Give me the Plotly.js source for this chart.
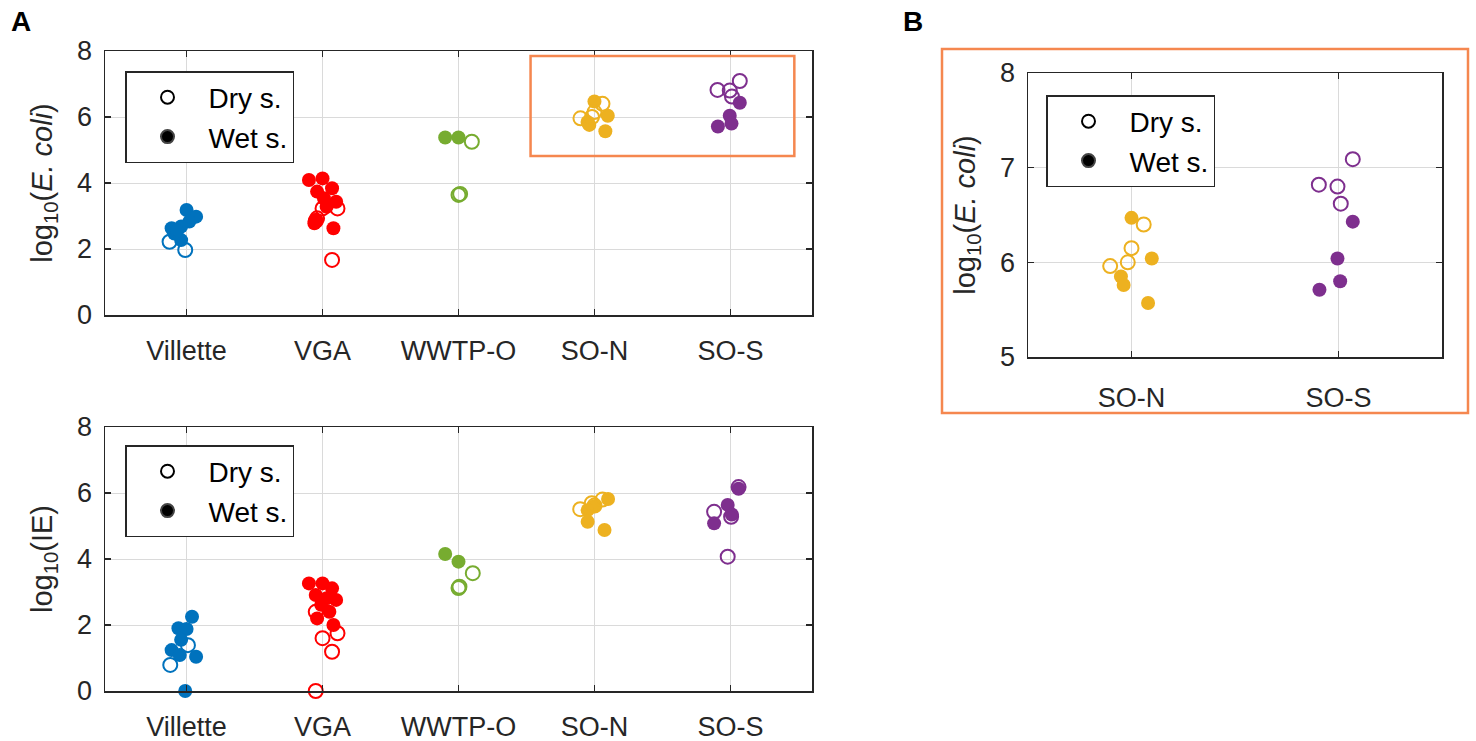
<!DOCTYPE html>
<html><head><meta charset="utf-8">
<script src="https://cdn.plot.ly/plotly-3.0.1.min.js"></script>
<style>html,body{margin:0;padding:0;background:#fff}</style>
</head><body><div id="chart" style="width:1476px;height:741px"></div>
<script>
const sites = ['Villette','VGA','WWTP-O','SO-N','SO-S'];
const siteColors = ['#0072BD','#FF0000','#77AC30','#EDB120','#7E2F8E'];
const mainTicks = [0,2,4,6,8];
const zoomTicks = [5,6,7,8];
const zoomSites = [3,4];

// log10(E. coli) — dry season
const ecoliDryY = [
  [2.22,1.97],
  [3.23,3.23,2.93,2.85,1.67],
  [5.25,3.64,3.67],
  [5.96,6.00,6.15,6.40],
  [6.82,6.80,6.62,7.09]
];
const ecoliDryJit = [
  [-0.125,-0.01],
  [0.0,0.11,-0.04,-0.05,0.07],
  [0.098,0.0,0.012],
  [-0.103,-0.018,0.0,0.059],
  [-0.095,-0.005,0.011,0.069]
];
// log10(E. coli) — wet season
const ecoliWetY = [
  [3.18,2.98,2.83,2.68,2.63,2.47,2.27,2.55],
  [4.09,4.14,3.84,3.74,3.54,3.43,3.28,2.88,2.78,2.63],
  [5.38,5.38],
  [6.47,6.04,5.85,5.76,5.57],
  [6.43,6.04,5.80,5.71]
];
const ecoliWetJit = [
  [0.0,0.07,0.02,-0.04,-0.11,-0.09,-0.04,-0.07],
  [-0.10,0.0,0.07,-0.04,0.01,0.10,0.03,-0.05,-0.06,0.08],
  [-0.098,0.0],
  [0.0,0.098,-0.051,-0.038,0.080],
  [0.069,-0.005,0.008,-0.092]
];
// log10(IE) — dry season
const ieDryY = [
  [1.39,0.79],
  [2.40,1.75,1.60,1.19,0.0],
  [3.57,3.16,3.12],
  [5.51,5.69,5.62,5.80],
  [5.43,4.07,5.28,6.18]
];
const ieDryJit = [
  [0.01,-0.12],
  [-0.05,0.11,0.0,0.07,-0.05],
  [0.105,0.007,0.0],
  [-0.105,-0.02,0.0,0.059],
  [-0.12,-0.02,0.005,0.06]
];
// log10(IE) — wet season
const ieWetY = [
  [2.25,1.90,1.88,1.55,1.24,1.09,1.04,0.0],
  [3.26,3.26,3.11,2.91,2.81,2.76,2.61,2.40,2.20,2.00],
  [4.15,3.92],
  [5.82,5.60,5.48,5.13,4.88],
  [6.13,5.64,5.35,5.08]
];
const ieWetJit = [
  [0.04,-0.06,0.0,-0.04,-0.11,-0.05,0.07,-0.01],
  [-0.10,0.0,0.07,-0.05,0.03,0.10,-0.01,0.05,-0.04,0.08],
  [-0.098,0.0],
  [0.10,0.0,-0.05,-0.05,0.074],
  [0.06,-0.02,0.01,-0.12]
];

const FONT = 'Liberation Sans, Arial, sans-serif';
const MS = 14;
const traces = [];

function addPanel(dryY, dryJit, wetY, wetJit, idxList, xa, ya, base){
  idxList.forEach((si, k) => {
    const pos = base ? k + 1 : si + 1;
    traces.push({
      type:'scatter', mode:'markers', xaxis:xa, yaxis:ya, showlegend:false, cliponaxis:false,
      x: wetJit[si].map(j => pos + j), y: wetY[si],
      marker:{symbol:'circle', size:MS, color:siteColors[si], line:{width:0}},
      hoverinfo:'skip'
    });
    traces.push({
      type:'scatter', mode:'markers', xaxis:xa, yaxis:ya, showlegend:false, cliponaxis:false,
      x: dryJit[si].map(j => pos + j), y: dryY[si],
      marker:{symbol:'circle-open', size:MS, color:siteColors[si], line:{width:2}},
      hoverinfo:'skip'
    });
  });
}
addPanel(ecoliDryY, ecoliDryJit, ecoliWetY, ecoliWetJit, [0,1,2,3,4], 'x', 'y', false);
addPanel(ieDryY, ieDryJit, ieWetY, ieWetJit, [0,1,2,3,4], 'x2', 'y2', false);
addPanel(ecoliDryY, ecoliDryJit, ecoliWetY, ecoliWetJit, zoomSites, 'x3', 'y3', true);

const legendNames = ['Dry s.','Wet s.'];
const legendSymbols = ['circle-open','circle'];
[['x','y','legend'],['x2','y2','legend2'],['x3','y3','legend3']].forEach(([xa,ya,lg]) => {
  legendNames.forEach((nm, i) => {
    traces.push({
      type:'scatter', mode:'markers', xaxis:xa, yaxis:ya, legend:lg, name:nm, showlegend:true,
      x:[null], y:[null],
      marker:{symbol:legendSymbols[i], size:13, color:'#000000', line:{width:2}}
    });
  });
});

const W = 1476, H = 741;
const px = v => v / W;
const py = v => 1 - v / H;

const axBase = {
  showline:true, mirror:'ticks', linecolor:'#262626', linewidth:1.5,
  ticks:'inside', ticklen:6, tickwidth:1.3, tickcolor:'#262626',
  showgrid:true, gridcolor:'#dadada', gridwidth:1, zeroline:false,
  tickfont:{family:FONT, size:27, color:'#262626'}, fixedrange:true
};
const titleFont = {family:FONT, size:29, color:'#262626'};

const legBase = {
  xanchor:'left', yanchor:'top', bgcolor:'#ffffff', bordercolor:'#262626', borderwidth:1.5,
  font:{family:FONT, size:28, color:'#000000'}, itemwidth:72, tracegroupgap:0
};

const layout = {
  width:W, height:H, autosize:false,
  margin:{l:0,r:0,t:0,b:0},
  paper_bgcolor:'#ffffff', plot_bgcolor:'#ffffff',
  xaxis: Object.assign({}, axBase, {domain:[px(105),px(812)], range:[0.4,5.6], tickvals:[1,2,3,4,5], ticktext:sites, anchor:'y', ticklabelstandoff:11}),
  yaxis: Object.assign({}, axBase, {domain:[py(315),py(51)], range:[0,8], tickvals:mainTicks, anchor:'x', ticklabelstandoff:6,
    title:{text:'log<sub>10</sub>(<i>E. coli</i>)', font:titleFont, standoff:16}}),
  xaxis2: Object.assign({}, axBase, {domain:[px(105),px(812)], range:[0.4,5.6], tickvals:[1,2,3,4,5], ticktext:sites, anchor:'y2', ticklabelstandoff:11}),
  yaxis2: Object.assign({}, axBase, {domain:[py(691),py(427)], range:[0,8], tickvals:mainTicks, anchor:'x2', ticklabelstandoff:6,
    title:{text:'log<sub>10</sub>(IE)', font:titleFont, standoff:16}}),
  xaxis3: Object.assign({}, axBase, {domain:[px(1028),px(1442)], range:[0.5,2.5], tickvals:[1,2], ticktext:zoomSites.map(i => sites[i]), anchor:'y3', ticklabelstandoff:16}),
  yaxis3: Object.assign({}, axBase, {domain:[py(357),py(73)], range:[5,8], tickvals:zoomTicks, anchor:'x3', ticklabelstandoff:6,
    title:{text:'log<sub>10</sub>(<i>E. coli</i>)', font:titleFont, standoff:16}}),
  legend: Object.assign({}, legBase, {x:px(125), y:py(71)}),
  legend2: Object.assign({}, legBase, {x:px(125), y:py(445)}),
  legend3: Object.assign({}, legBase, {x:px(1046), y:py(95)}),
  shapes:[
    {type:'rect', xref:'x', yref:'y', x0:3.53, x1:5.47, y0:4.82, y1:7.85, line:{color:'#F5874F', width:2.5}, fillcolor:'rgba(0,0,0,0)'},
    {type:'rect', xref:'paper', yref:'paper', x0:px(942), x1:px(1468), y0:py(413), y1:py(49), line:{color:'#F5874F', width:2.5}, fillcolor:'rgba(0,0,0,0)'}
  ],
  annotations:[
    {text:'<b>A</b>', xref:'paper', yref:'paper', x:px(21), y:py(22), showarrow:false, xanchor:'center', yanchor:'middle', font:{family:FONT, size:28, color:'#000'}},
    {text:'<b>B</b>', xref:'paper', yref:'paper', x:px(913), y:py(22), showarrow:false, xanchor:'center', yanchor:'middle', font:{family:FONT, size:28, color:'#000'}}
  ]
};

Plotly.newPlot('chart', traces, layout, {displayModeBar:false, staticPlot:true});
</script>
</body></html>
